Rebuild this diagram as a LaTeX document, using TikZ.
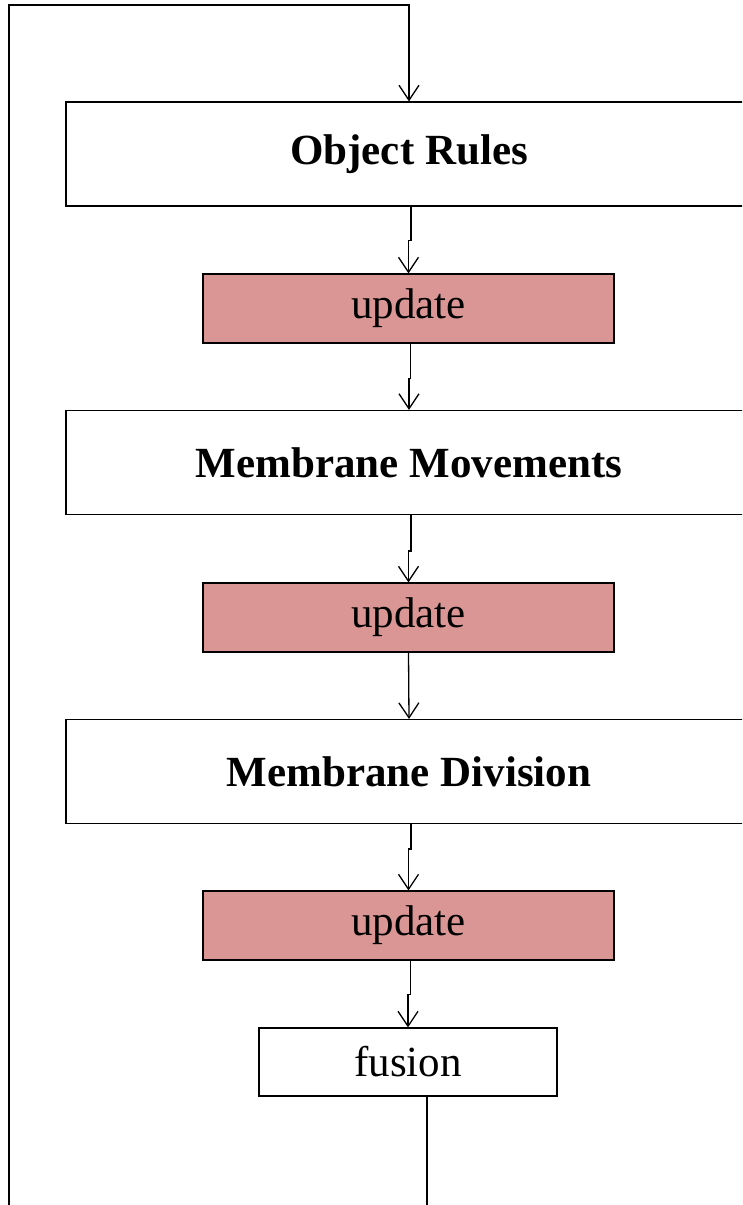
\documentclass[tikz,border=0pt]{standalone}
\usepackage{fontspec}
\setmainfont{Liberation Serif}
\usetikzlibrary{arrows.meta}
\definecolor{updatered}{HTML}{D99694}
\begin{document}
\begin{tikzpicture}[x=1pt,y=-1pt,
  stage/.style={draw=black, line width=1.1pt, minimum width=686pt, minimum height=104pt,
    inner sep=0pt, font=\fontsize{43}{50}\selectfont\bfseries},
  upd/.style={draw=black, line width=1.1pt, fill=updatered, minimum width=411pt,
    minimum height=69pt, inner sep=0pt, font=\fontsize{43}{50}\selectfont},
  plain/.style={draw=black, line width=1.1pt, minimum width=298pt,
    minimum height=68pt, inner sep=0pt, font=\fontsize{43}{50}\selectfont},
  arr/.style={draw=black, line width=1.3pt, -{Straight Barb[length=15pt,width=20pt]}}]
\useasboundingbox (0,0) rectangle (742,1205);
\clip (0,0) rectangle (742,1205);

% pipeline stages
\node[stage] (obj)  at (409,154)   {Object Rules};
\node[upd]   (up1)  at (408.5,308.5) {update};
\node[stage] (move) at (409,462.5) {Membrane Movements};
\node[upd]   (up2)  at (408.5,617.5) {update};
\node[stage] (div)  at (409,771.5) {Membrane Division};
\node[upd]   (up3)  at (408.5,925.5) {update};
\node[plain] (fus)  at (408,1062)  {fusion};

% feedback loop corners
\coordinate (loopbottom) at (9,1230);
\coordinate (looptop) at (9,5);

% connectors between stages
\draw[arr] ([xshift=2pt]obj.south) -- ++(0,34) -| (up1.north);
\draw[arr] ([xshift=2pt]up1.south) -- ++(0,35) -| (move.north);
\draw[arr] ([xshift=2pt]move.south) -- ++(0,36) -| (up2.north);
\draw[arr] (up2.south) -- (div.north);
\draw[arr] ([xshift=2pt]div.south) -- ++(0,25) -| (up3.north);
\draw[arr] ([xshift=2pt]up3.south) -- ++(0,34) -| (fus.north);

% loop back from fusion to the first stage
\draw[arr] ([xshift=19pt]fus.south) |- (loopbottom) -- (looptop) -| (obj.north);
\end{tikzpicture}
\end{document}
